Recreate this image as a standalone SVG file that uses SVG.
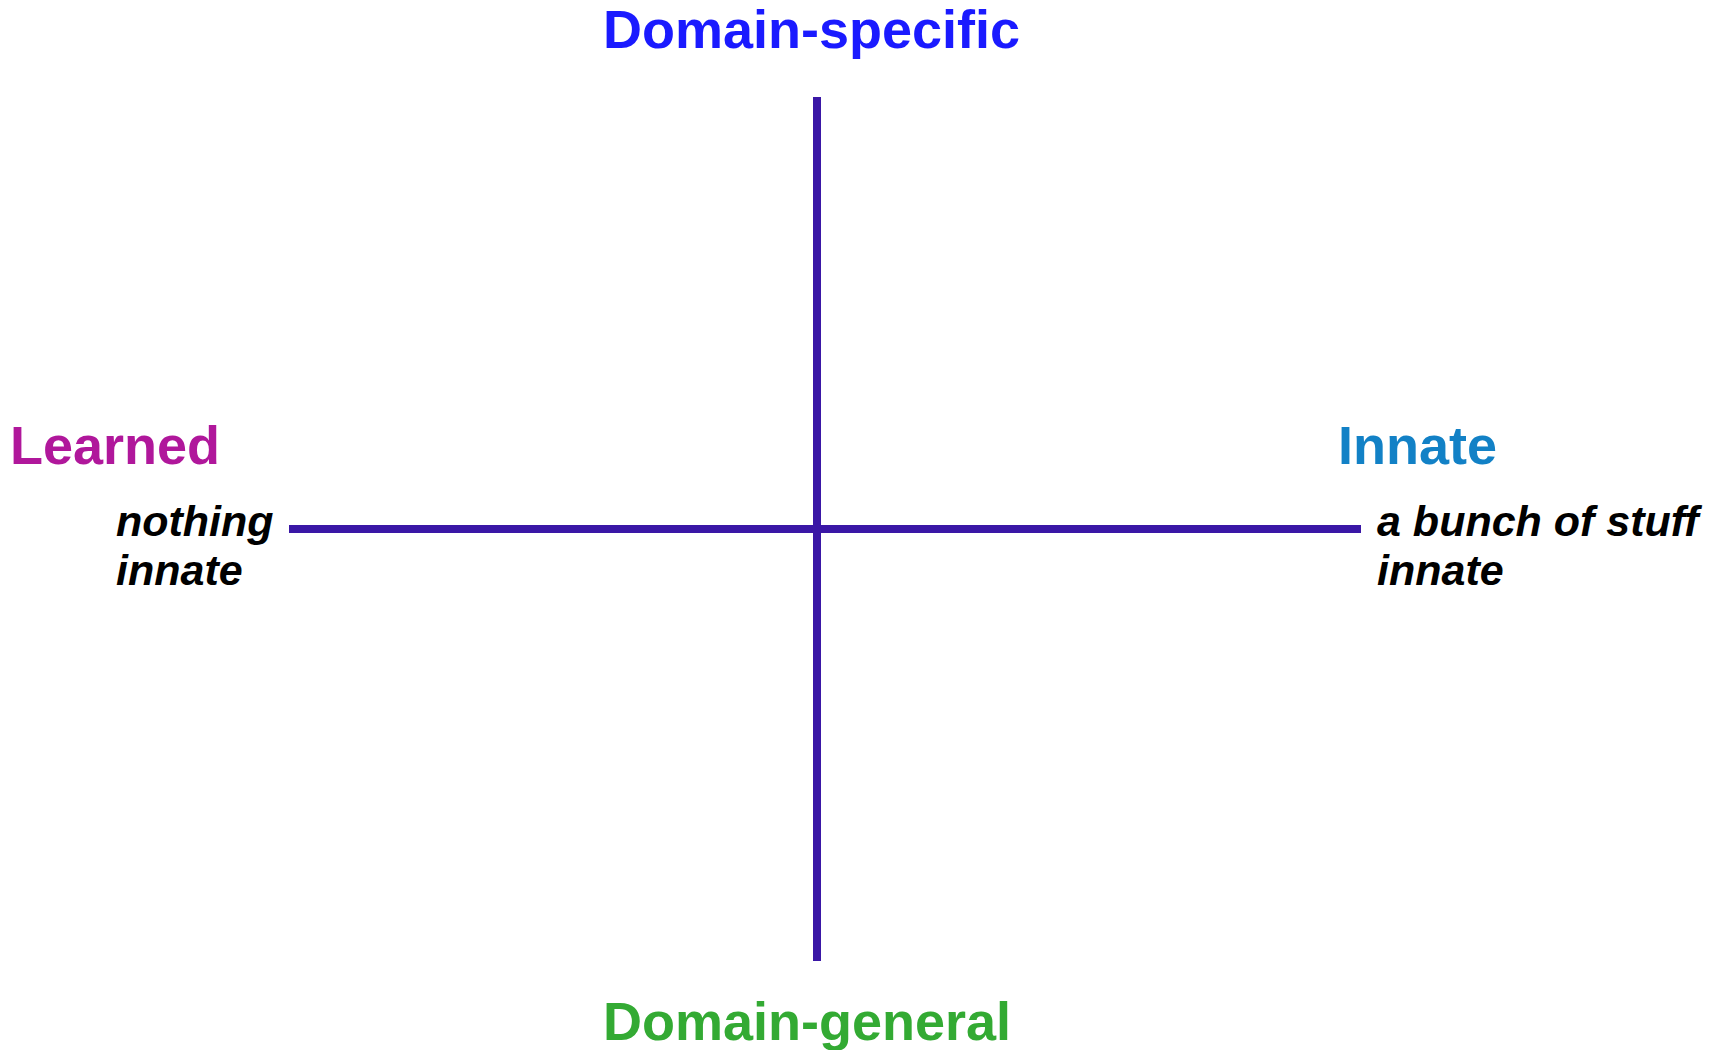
<svg xmlns="http://www.w3.org/2000/svg" width="1719" height="1050" viewBox="0 0 1719 1050">
<style>
.axis{stroke:#3a17a6;stroke-width:8;fill:none}
.head{font-family:"Liberation Sans",Arial,sans-serif;font-weight:bold;font-size:54px}
.note{font-family:"Liberation Sans",Arial,sans-serif;font-weight:bold;font-style:italic;font-size:43px;fill:#000}
</style>
<rect width="1719" height="1050" fill="#fff"/>
<g id="connectors">
<line class="axis" x1="817" y1="97" x2="817" y2="961"/>
<line class="axis" x1="289" y1="529" x2="1361" y2="529"/>
</g>
<g id="domain-specific"><text class="head" x="811.5" y="48" text-anchor="middle" fill="#1a1aff">Domain-specific</text></g>
<g id="domain-general"><text class="head" x="807" y="1040" text-anchor="middle" fill="#33aa33">Domain-general</text></g>
<g id="learned"><text class="head" x="10" y="464" fill="#b0179b">Learned</text></g>
<g id="innate"><text class="head" x="1338" y="464" fill="#1281c6">Innate</text></g>
<g id="nothing-innate"><text class="note" x="116" y="536">nothing</text><text class="note" x="116" y="585">innate</text></g>
<g id="bunch-innate"><text class="note" x="1377" y="536">a bunch of stuff</text><text class="note" x="1377" y="585">innate</text></g>
</svg>
